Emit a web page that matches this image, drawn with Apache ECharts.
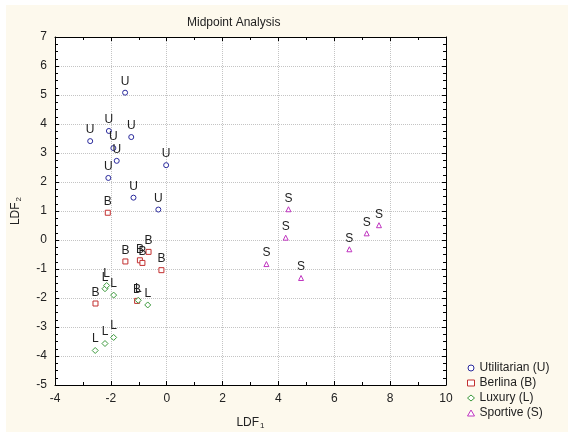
<!DOCTYPE html>
<html lang="en" style="height: 100%">
<head>
  <meta charset="utf-8" />
  <title>Midpoint Analysis</title>
</head>
<body style="height: 100%; margin: 0; background: #ffffff">
  <div id="container" style="width: 572px; height: 435px"></div>

  <script src="https://cdn.jsdelivr.net/npm/echarts@6/dist/echarts.min.js"></script>

  <script>
    // groups, letters shown above each point
    var groupNames = ['Utilitarian (U)', 'Berlina (B)', 'Luxury (L)', 'Sportive (S)'];
    var groupLetters = ['U', 'B', 'L', 'S'];
    var groupSymbols = ['circle', 'rect', 'diamond', 'triangle'];
    var groupColors = ['#2a2a9c', '#c23030', '#3c9a3c', '#c036c0'];

    // LDF1, LDF2
    var utilitarian = [
      [-1.49, 5.08], [-2.07, 3.76], [-2.74, 3.41], [-1.27, 3.55], [-1.91, 3.17],
      [-1.79, 2.73], [-0.02, 2.58], [-2.09, 2.14], [-1.19, 1.46], [-0.30, 1.05]
    ];
    var berlina = [
      [-2.11, 0.94], [-1.48, -0.74], [-0.96, -0.70], [-0.87, -0.79], [-0.65, -0.41],
      [-0.19, -1.04], [-2.55, -2.19], [-1.06, -2.10]
    ];
    var luxury = [
      [-2.21, -1.68], [-2.15, -1.57], [-1.90, -1.90], [-1.02, -2.08], [-0.68, -2.24],
      [-1.90, -3.36], [-2.21, -3.57], [-2.56, -3.81]
    ];
    var sportive = [
      [4.36, 1.06], [4.26, 0.08], [3.57, -0.83], [4.81, -1.31], [6.54, -0.32],
      [7.16, 0.23], [7.60, 0.51]
    ];
    var groupData = [utilitarian, berlina, luxury, sportive];

    var xMin = -4, xMax = 10, xStep = 2;
    var yMin = -5, yMax = 7, yStep = 1;

    var font = 'Liberation Sans, Arial, sans-serif';

    var dom = document.getElementById('container');
    var myChart = echarts.init(dom, null, { renderer: 'canvas' });

    var series = [];
    for (var i = 0; i < groupNames.length; i++) {
      series.push({
        name: groupNames[i],
        type: 'scatter',
        xAxisIndex: 0,
        yAxisIndex: 0,
        symbol: groupSymbols[i],
        symbolSize: i === 2 ? 6 : 5,
        data: groupData[i],
        itemStyle: { color: '#ffffff', borderColor: groupColors[i], borderWidth: 1, opacity: 1 },
        label: {
          show: true,
          position: 'top',
          distance: 2,
          formatter: groupLetters[i],
          color: '#222',
          fontFamily: font,
          fontSize: 12
        },
        emphasis: { disabled: true }
      });
    }

    function frameAxis(pos, isX) {
      return {
        type: 'value',
        position: pos,
        min: isX ? xMin : yMin,
        max: isX ? xMax : yMax,
        interval: isX ? xStep : yStep,
        axisLine: { show: true, onZero: false, lineStyle: { color: '#000', width: 1 } },
        axisTick: { show: true, inside: true, length: 4, lineStyle: { color: '#000' } },
        minorTick: { show: true, splitNumber: isX ? 2 : 4, length: 3, lineStyle: { color: '#000' } },
        axisLabel: { show: false },
        splitLine: { show: false }
      };
    }

    var xBottom = frameAxis('bottom', true);
    xBottom.axisLabel = { show: true, color: '#222', fontFamily: font, fontSize: 12, margin: 8 };
    xBottom.splitLine = { show: true, lineStyle: { color: '#c4c4c4', type: [1, 1] } };
    xBottom.name = '{a|LDF}{b|1}';
    xBottom.nameLocation = 'middle';
    xBottom.nameGap = 30;
    xBottom.nameTextStyle = {
      rich: {
        a: { fontFamily: font, fontSize: 12, color: '#222' },
        b: { fontFamily: font, fontSize: 8, color: '#222', padding: [7, 0, 0, 1] }
      }
    };

    var yLeft = frameAxis('left', false);
    yLeft.axisLabel = { show: true, color: '#222', fontFamily: font, fontSize: 12, margin: 8 };
    yLeft.splitLine = { show: true, lineStyle: { color: '#c4c4c4', type: [1, 1] } };
    yLeft.name = '{a|LDF}{b|2}';
    yLeft.nameLocation = 'middle';
    yLeft.nameRotate = 90;
    yLeft.nameGap = 32;
    yLeft.nameTextStyle = {
      rich: {
        a: { fontFamily: font, fontSize: 12, color: '#222' },
        b: { fontFamily: font, fontSize: 8, color: '#222', padding: [7, 0, 0, 1] }
      }
    };

    var option = {
      backgroundColor: '#ffffff',
      animation: false,
      graphic: [
        {
          type: 'rect',
          left: 6, top: 5,
          shape: { width: 562, height: 427 },
          style: { fill: '#fdf9ed' },
          z: -10
        }
      ],
      title: {
        text: 'Midpoint Analysis',
        left: 182,
        top: 12,
        textStyle: { fontFamily: font, fontSize: 12, fontWeight: 'normal', color: '#222' }
      },
      legend: {
        orient: 'vertical',
        left: 462,
        top: 357,
        itemGap: 3,
        itemWidth: 7,
        itemHeight: 6,
        itemTextGap: 14,
        itemStyle: { borderWidth: 1 },
        data: groupNames,
        textStyle: { fontFamily: font, fontSize: 12, color: '#222' },
        selectedMode: false
      },
      grid: {
        left: 55,
        right: 126,
        top: 37,
        bottom: 46,
        show: true,
        backgroundColor: '#ffffff',
        borderWidth: 0
      },
      xAxis: [xBottom, frameAxis('top', true)],
      yAxis: [yLeft, frameAxis('right', false)],
      series: series
    };

    myChart.setOption(option);

    window.onresize = function () {
      myChart.resize();
    };
  </script>
</body>
</html>
